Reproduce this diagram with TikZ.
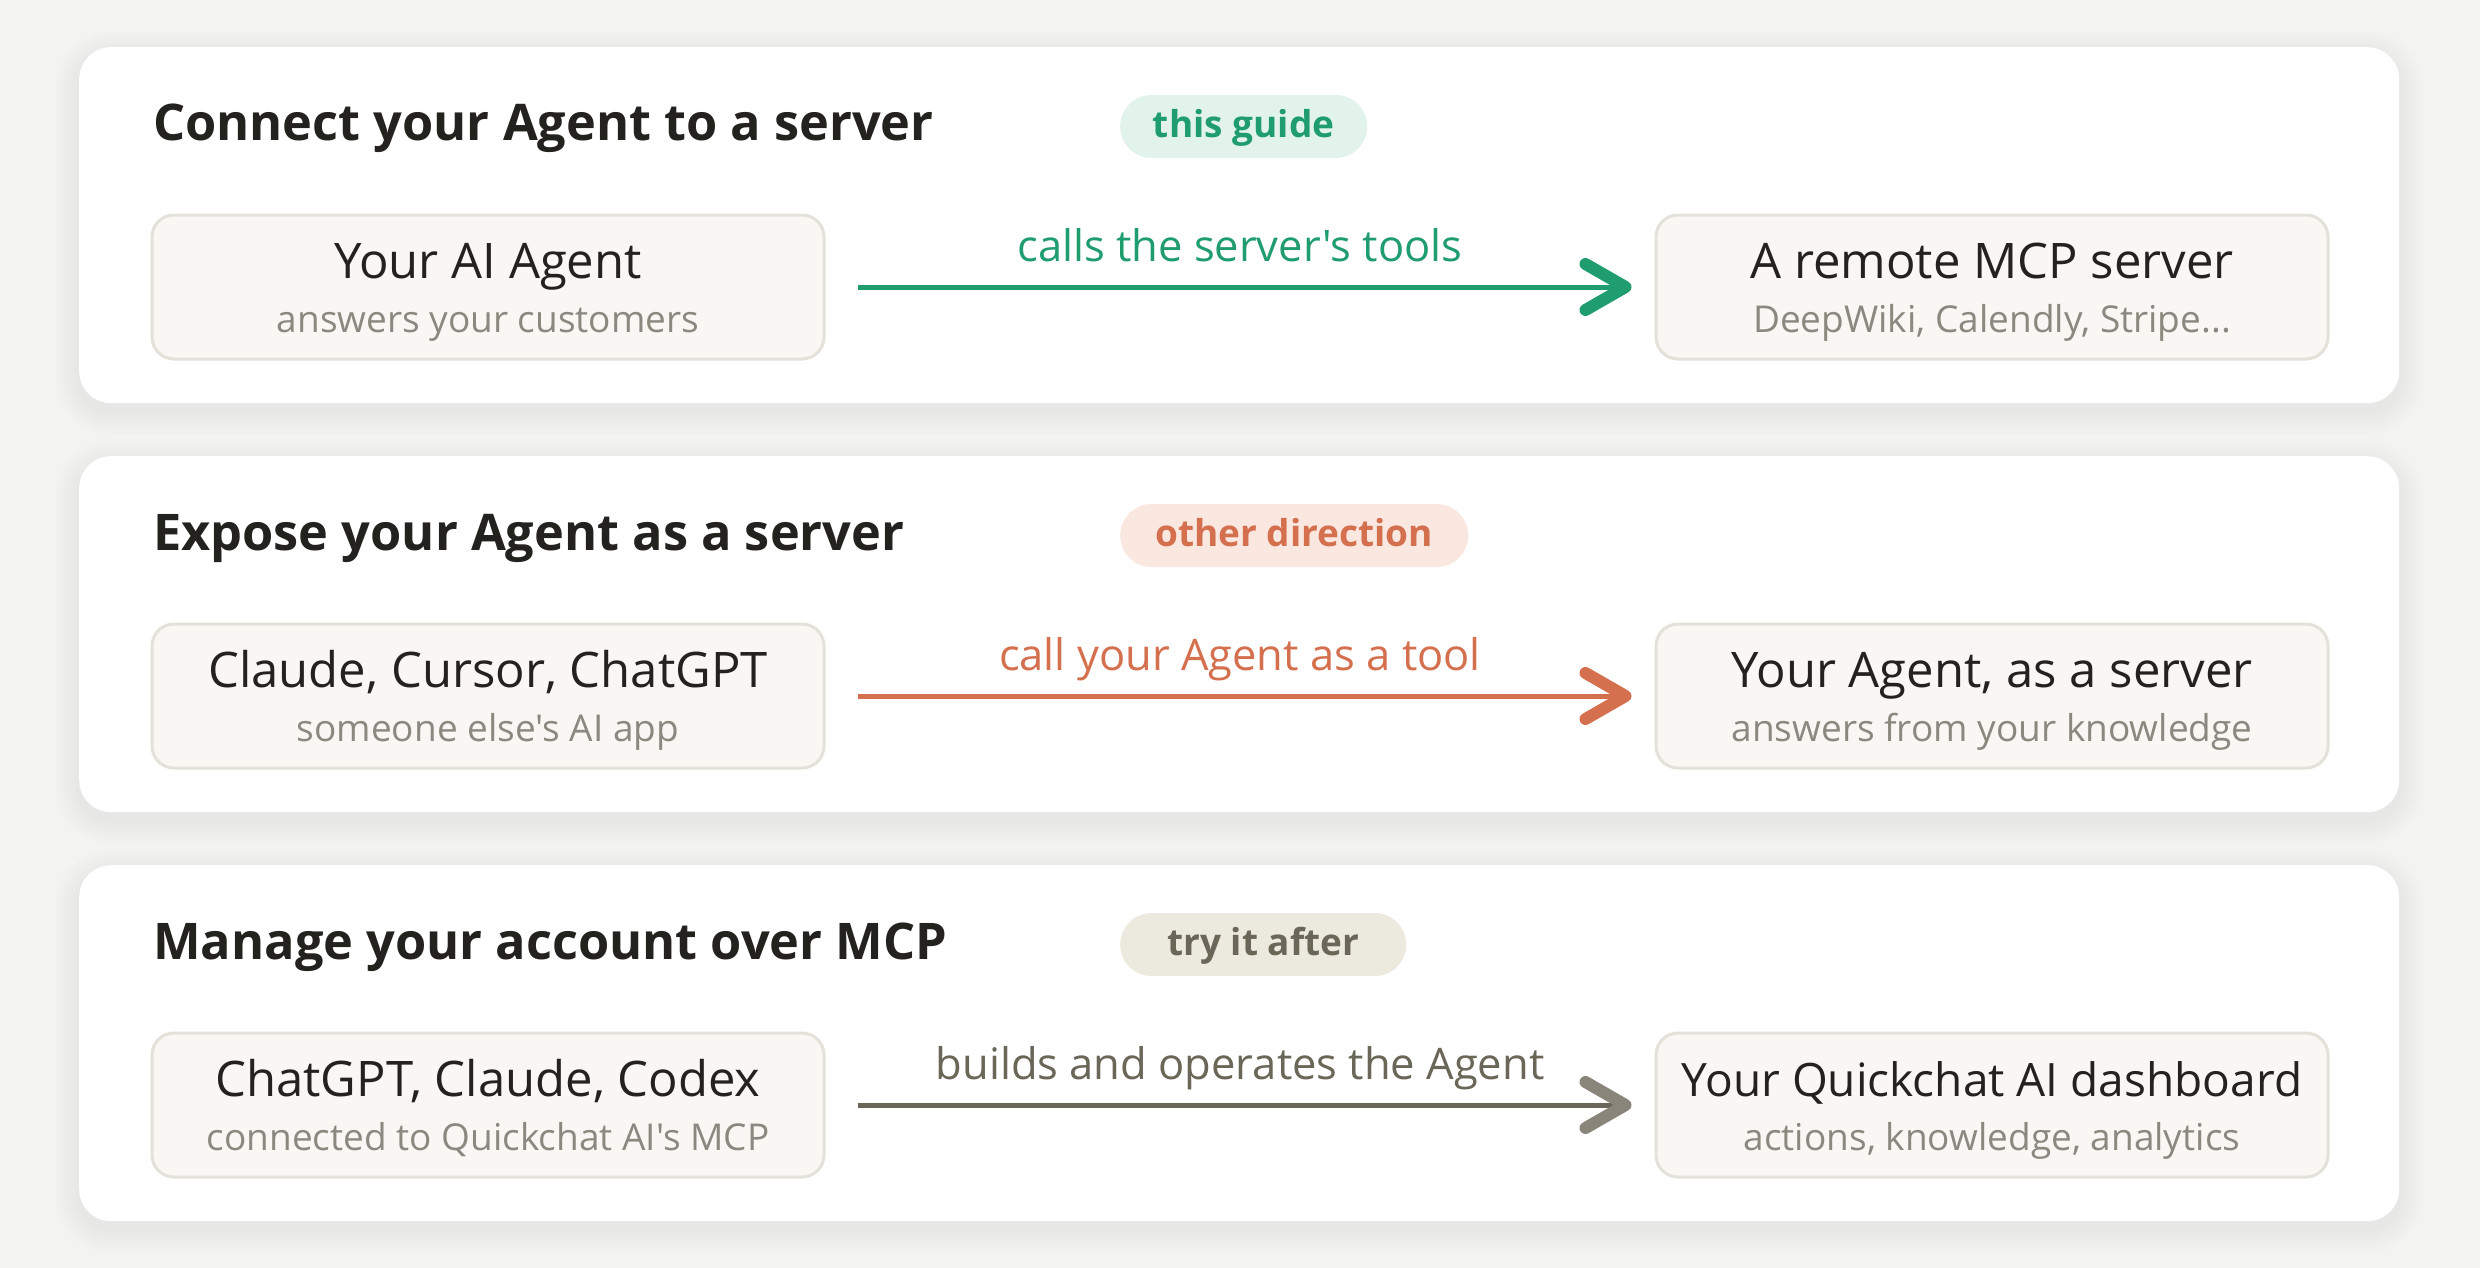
\documentclass[tikz,border=0pt]{standalone}
\usepackage{fontspec}
\setmainfont{Open Sans}[Ligatures=TeXOff]
\usetikzlibrary{arrows.meta}
\definecolor{bg}{HTML}{F3F3F1}
\definecolor{ink}{HTML}{23221E}
\definecolor{subc}{HTML}{8B887F}
\definecolor{boxfill}{HTML}{F8F7F3}
\definecolor{boxline}{HTML}{E3E1DA}
\definecolor{grn}{HTML}{1F9D6F}
\definecolor{grnbg}{HTML}{E2F3EB}
\definecolor{org}{HTML}{D5704F}
\definecolor{orgbg}{HTML}{F9E7E0}
\definecolor{olv}{HTML}{6A6658}
\definecolor{olvbg}{HTML}{ECE9DF}
\definecolor{olvhead}{HTML}{8A857B}
\begin{document}
\begin{tikzpicture}[x=1pt,y=-1pt,
  panel/.style={fill=white, rounded corners=32pt, minimum width=2320pt, minimum height=356pt, inner sep=0pt, anchor=north west},
  ttl/.style={anchor=base west, inner sep=0pt, font=\fontsize{50.5}{60}\selectfont\bfseries, text=ink},
  btitle/.style={anchor=base, inner sep=0pt, font=\fontsize{49}{58}\selectfont, text=ink},
  bsub/.style={anchor=base, inner sep=0pt, font=\fontsize{37}{44}\selectfont, text=subc},
  lbl/.style={font=\fontsize{43.5}{52}\selectfont, anchor=base, yshift=26pt, inner sep=0pt},
  pill/.style={anchor=west, rounded corners=31.5pt, minimum height=63pt, inner xsep=0pt, inner ysep=0pt, text height=30pt, text depth=8pt, font=\fontsize{37}{44}\selectfont\bfseries},
  box/.style={fill=boxfill, draw=boxline, line width=3pt, rounded corners=22pt, minimum width=672pt, minimum height=144pt, inner sep=0pt},
  arr/.style={line width=5pt, shorten <=32pt, shorten >=23pt},
  tip/.style={-{Straight Barb[length=40pt,width=46pt,line width=12pt,round]}}
]
\useasboundingbox (0,0) rectangle (2480,1268);
\fill[bg] (0,0) rectangle (2480,1268);

% soft shadows
\foreach \oy in {0,409,818}{
  \foreach \d in {3,7,11,15,19,23}{
    \pgfmathsetmacro\rr{32+\d}
    \fill[black, opacity=0.006, rounded corners=\rr pt] (79-\d, 47+\oy-\d+8) rectangle (2399+\d, 403+\oy+\d+8);
  }
}

% ---------- panel 1
\node[panel] (p1) at (79,47) {};
\node[ttl] (t1) at (153,141) {Connect your Agent to a server};
\node[pill, fill=grnbg, text=grn, minimum width=247pt] (g1) at (1120,126.5) {this guide};
\node[box] (a1) at (488,287) {};
\node[box] (b1) at (1992,287) {};
\node[btitle] (a1t) at (488,278) {Your AI Agent};
\node[bsub] (a1s) at (488,332) {answers your customers};
\node[btitle] (b1t) at (1992,278) {A remote MCP server};
\node[bsub] (b1s) at (1992,332) {DeepWiki, Calendly, Stripe...};
\draw[arr, grn, tip] (a1) -- node[lbl, text=grn] (l1) {calls the server's tools} (b1);

% ---------- panel 2
\node[panel] (p2) at (79,456) {};
\node[ttl] (t2) at (153,550) {Expose your Agent as a server};
\node[pill, fill=orgbg, text=org, minimum width=348pt] (g2) at (1120,535.5) {other direction};
\node[box] (a2) at (488,696) {};
\node[box] (b2) at (1992,696) {};
\node[btitle] (a2t) at (488,687) {Claude, Cursor, ChatGPT};
\node[bsub] (a2s) at (488,741) {someone else's AI app};
\node[btitle] (b2t) at (1992,687) {Your Agent, as a server};
\node[bsub] (b2s) at (1992,741) {answers from your knowledge};
\draw[arr, org, tip] (a2) -- node[lbl, text=org] (l2) {call your Agent as a tool} (b2);

% ---------- panel 3
\node[panel] (p3) at (79,865) {};
\node[ttl] (t3) at (153,959) {Manage your account over MCP};
\node[pill, fill=olvbg, text=olv, minimum width=286pt] (g3) at (1120,944.5) {try it after};
\node[box] (a3) at (488,1105) {};
\node[box] (b3) at (1992,1105) {};
\node[btitle] (a3t) at (488,1096) {ChatGPT, Claude, Codex};
\node[bsub] (a3s) at (488,1150) {connected to Quickchat AI's MCP};
\node[btitle, font=\fontsize{46}{56}\selectfont] (b3t) at (1992,1096) {Your Quickchat AI dashboard};
\node[bsub] (b3s) at (1992,1150) {actions, knowledge, analytics};
\draw[arr, olv, -{Straight Barb[length=40pt,width=46pt,line width=12pt,round,color=olvhead]}] (a3) -- node[lbl, text=olv] (l3) {builds and operates the Agent} (b3);
\end{tikzpicture}
\end{document}
